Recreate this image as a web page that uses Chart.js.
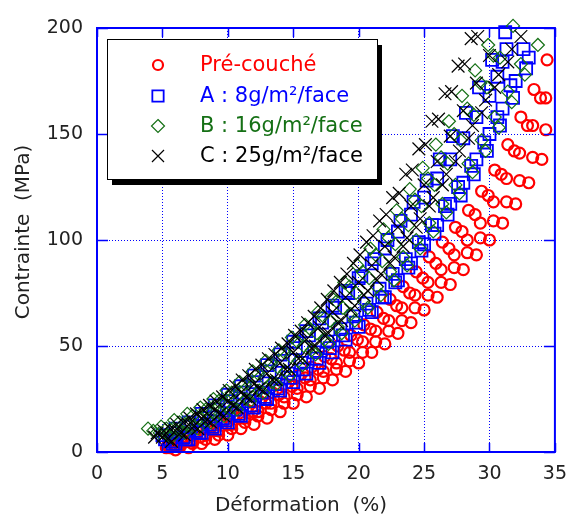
<!DOCTYPE html>
<html>
<head>
<meta charset="utf-8">
<script src="https://cdn.jsdelivr.net/npm/chart.js@4.4.0/dist/chart.umd.min.js"></script>
<style>
  body { margin: 0; background: #fff; }
  #wrap { width: 578px; height: 520px; }
</style>
</head>
<body>
<div id="wrap"><canvas id="myChart" width="578" height="520"></canvas></div>
<script>
// axis ticks
const xTicks = [0, 5, 10, 15, 20, 25, 30, 35];
const yTicks = [0, 50, 100, 150, 200];
const xTitle = "Déformation  (%)";
const yTitle = "Contrainte  (MPa)";

// Pré-couché (red circles), several specimens
const preCouche1 = [[5.4,3],[6.4,5],[7.4,8],[8.4,11],[9.4,14],[10.4,17],[11.4,20],[12.4,24],[13.4,28],[14.4,32],[15.4,36],[16.4,40],[17.4,45],[18.4,50],[19.4,55],[20.4,60],[21.4,66],[22.4,72],[23.4,78],[24.4,85],[25.4,92],[26.4,99],[27.4,106],[28.4,114],[29.4,123],[30.4,133],[31.4,145],[32.4,158],[33.4,171],[34.4,185]];
const preCouche2 = [[5.3,2],[6.3,3],[7.3,5],[8.3,8],[9.3,10],[10.3,13],[11.3,16],[12.3,19],[13.3,23],[14.3,26],[15.3,30],[16.3,34],[17.3,38],[18.3,42],[19.3,47],[20.3,52],[21.3,57],[22.3,62],[23.3,68],[24.3,74],[25.3,80],[26.3,86],[27.3,93],[28.3,100],[29.3,108],[30.3,118],[31.3,129],[32.3,141],[33.3,154],[34.3,167]];
const preCouche3 = [[5.6,2],[6.4,3],[7.3,4],[8.3,6],[9.3,8],[10.3,11],[11.3,14],[12.3,17],[13.3,20],[14.3,23],[15.3,27],[16.3,31],[17.3,35],[18.3,39],[19.3,43],[20.3,47],[21.3,52],[22.3,57],[23.3,62],[24.3,68],[25.3,74],[26.3,80],[27.3,87],[28.3,94],[29.3,101],[30.3,109],[31.3,118],[32.3,128],[33.3,139],[34.3,152]];
const preCouche4 = [[5.9,3],[6.9,5],[7.9,7],[8.9,10],[9.9,13],[10.9,16],[11.9,19],[12.9,23],[13.9,27],[14.9,31],[15.9,35],[16.9,39],[17.9,44],[18.9,48],[19.9,53],[20.9,58],[21.9,63],[22.9,69],[23.9,75],[24.9,82],[25.9,89],[26.9,96],[27.9,104],[28.9,112],[29.9,121],[30.9,131],[31.9,142],[32.9,154],[33.9,167]];
const preCouche5 = [[6,1],[7,2],[8,4],[9,6],[10,8],[11,11],[12,13],[13,16],[14,19],[15,23],[16,26],[17,30],[18,34],[19,38],[20,42],[21,47],[22,51],[23,56],[24,61],[25,67],[26,73],[27,79],[28,86],[29,93],[30,100],[31,108],[32,117],[33,127],[34,138]];

// A : 8g/m²/face (blue squares)
const coucheA1 = [[5.2,6],[6.2,9],[7.2,12],[8.2,16],[9.2,20],[10.2,24],[11.2,28],[12.2,33],[13.2,38],[14.2,43],[15.2,49],[16.2,55],[17.2,61],[18.2,68],[19.2,75],[20.2,83],[21.2,91],[22.2,100],[23.2,109],[24.2,118],[25.2,128],[26.2,138],[27.2,149],[28.2,160],[29.2,172],[30.2,185],[31.2,198]];
const coucheA2 = [[5.6,5],[6.6,7],[7.6,10],[8.6,13],[9.6,16],[10.6,20],[11.6,24],[12.6,28],[13.6,32],[14.6,37],[15.6,42],[16.6,47],[17.6,52],[18.6,58],[19.6,64],[20.6,70],[21.6,77],[22.6,84],[23.6,91],[24.6,99],[25.6,107],[26.6,116],[27.6,125],[28.6,135],[29.6,146],[30.6,158],[31.6,173],[32.6,190]];
const coucheA3 = [[6,4],[7,6],[8,9],[9,11],[10,14],[11,17],[12,21],[13,25],[14,29],[15,33],[16,37],[17,42],[18,47],[19,53],[20,59],[21,66],[22,73],[23,81],[24,89],[25,98],[26,107],[27,117],[28,127],[29,138],[30,150],[31,162],[32,175],[33,186]];
const coucheA4 = [[5.8,4],[6.8,6],[7.8,9],[8.8,12],[9.8,15],[10.8,18],[11.8,22],[12.8,26],[13.8,30],[14.8,35],[15.8,39],[16.8,44],[17.8,49],[18.8,55],[19.8,61],[20.8,67],[21.8,73],[22.8,80],[23.8,87],[24.8,95],[25.8,103],[26.8,112],[27.8,121],[28.8,131],[29.8,142],[30.8,154],[31.8,167],[32.8,181]];
const coucheA5 = [[5,8],[6,11],[7,14],[8,18],[9,22],[10,27],[11,31],[12,36],[13,41],[14,46],[15,52],[16,57],[17,63],[18,69],[19,76],[20,82],[21,89],[22,96],[23,104],[24,112],[25,120],[26,129],[27,138],[28,148],[29,158],[30,168],[30.6,177],[31,184],[31.3,190]];

// B : 16g/m²/face (green diamonds)
const coucheB1 = [[3.9,11],[4.9,12],[5.9,15],[6.9,18],[7.9,21],[8.9,25],[9.9,29],[10.9,33],[11.9,38],[12.9,43],[13.9,48],[14.9,54],[15.9,60],[16.9,66],[17.9,73],[18.9,80],[19.9,88],[20.9,96],[21.9,105],[22.9,114],[23.9,124],[24.9,134],[25.9,145],[26.9,156],[27.9,168],[28.9,180],[29.9,192]];
const coucheB2 = [[4.8,9],[5.8,11],[6.8,13],[7.8,16],[8.8,19],[9.8,23],[10.8,27],[11.8,31],[12.8,35],[13.8,40],[14.8,45],[15.8,50],[16.8,56],[17.8,62],[18.8,68],[19.8,75],[20.8,82],[21.8,90],[22.8,98],[23.8,107],[24.8,116],[25.8,126],[26.8,136],[27.8,147],[28.8,159],[29.8,172],[30.8,186],[31.8,201]];
const coucheB3 = [[5.7,7],[6.7,9],[7.7,11],[8.7,14],[9.7,17],[10.7,20],[11.7,24],[12.7,28],[13.7,32],[14.7,36],[15.7,41],[16.7,46],[17.7,51],[18.7,56],[19.7,62],[20.7,68],[21.7,74],[22.7,81],[23.7,88],[24.7,96],[25.7,104],[26.7,113],[27.7,122],[28.7,132],[29.7,142],[30.7,153],[31.7,165],[32.7,178],[33.7,192]];
const coucheB4 = [[4.3,10],[5.3,11],[6.3,14],[7.3,17],[8.3,20],[9.3,24],[10.3,28],[11.3,32],[12.3,37],[13.3,42],[14.3,47],[15.3,52],[16.3,58],[17.3,64],[18.3,71],[19.3,78],[20.3,85],[21.3,93],[22.3,101],[23.3,110],[24.3,119],[25.3,129],[26.3,139],[27.3,150],[28.3,162],[29.3,174],[30.3,187]];
const coucheB5 = [[5.4,8],[6.4,10],[7.4,12],[8.4,15],[9.4,18],[10.4,21],[11.4,25],[12.4,29],[13.4,33],[14.4,38],[15.4,43],[16.4,48],[17.4,53],[18.4,59],[19.4,65],[20.4,71],[21.4,78],[22.4,85],[23.4,92],[24.4,100],[25.4,108],[26.4,117],[27.4,126],[28.4,136],[29.4,147],[30.4,158],[31.4,170],[32.4,183]];

// C : 25g/m²/face (black crosses)
const coucheC1 = [[4.6,9],[5.6,11],[6.6,14],[7.6,18],[8.6,22],[9.6,26],[10.6,31],[11.6,36],[12.6,41],[13.6,46],[14.6,51],[15.6,57],[16.6,64],[17.6,72],[18.6,80],[19.6,89],[20.6,99],[21.6,109],[22.6,120],[23.6,131],[24.6,143],[25.6,156],[26.6,169],[27.6,182],[28.6,195]];
const coucheC2 = [[5,7],[6,10],[7,13],[8,16],[9,20],[10,24],[11,28],[12,32],[13,37],[14,42],[15,47],[16,53],[17,59],[18,66],[19,73],[20,80],[21,88],[22,97],[23,106],[24,116],[25,126],[26,137],[27,149],[28,161],[29,174],[30,187]];
const coucheC3 = [[5.4,6],[6.4,9],[7.4,12],[8.4,15],[9.4,18],[10.4,22],[11.4,26],[12.4,30],[13.4,34],[14.4,39],[15.4,44],[16.4,49],[17.4,55],[18.4,61],[19.4,67],[20.4,74],[21.4,81],[22.4,89],[23.4,97],[24.4,106],[25.4,116],[26.4,126],[27.4,137],[28.4,148],[29.4,160],[30.4,172],[31.4,184],[32.4,196]];
const coucheC4 = [[4.4,7],[5.1,10],[6.1,13],[7.1,16],[8.1,20],[9.1,24],[10.1,29],[11.1,34],[12.1,39],[13.1,44],[14.1,49],[15.1,55],[16.1,61],[17.1,68],[18.1,76],[19.1,84],[20.1,93],[21.1,102],[22.1,112],[23.1,122],[24.1,133],[25.1,145],[26.1,157],[27.1,170],[28.1,183],[29.1,196]];
const coucheC5 = [[5.7,5],[6.7,8],[7.7,11],[8.7,14],[9.7,17],[10.7,21],[11.7,25],[12.7,29],[13.7,34],[14.7,39],[15.7,44],[16.7,50],[17.7,56],[18.7,62],[19.7,69],[20.7,76],[21.7,84],[22.7,92],[23.7,101],[24.7,110],[25.7,120],[26.7,131],[27.7,142],[28.7,154],[29.7,166],[30.7,178],[31.7,190]];

const series = [
  { label: "Pré-couché", color: "#ff0000", style: "circle", radius: 5.5, width: 2.2, order: 4, curves: [preCouche1, preCouche2, preCouche3, preCouche4, preCouche5] },
  { label: "A : 8g/m²/face", color: "#0000ff", style: "rect", radius: 8.5, width: 1.8, order: 3, curves: [coucheA1, coucheA2, coucheA3, coucheA4, coucheA5] },
  { label: "B : 16g/m²/face", color: "#157015", style: "rectRot", radius: 6.5, width: 1.2, order: 2, curves: [coucheB1, coucheB2, coucheB3, coucheB4, coucheB5] },
  { label: "C : 25g/m²/face", color: "#000000", style: "crossRot", radius: 9, width: 1.2, order: 1, curves: [coucheC1, coucheC2, coucheC3, coucheC4, coucheC5] },
];

const datasets = [];
series.forEach((s) => {
  s.curves.forEach((c) => {
    datasets.push({
      label: s.label,
      data: c.map((p) => ({ x: p[0], y: p[1] })),
      showLine: false,
      pointStyle: s.style,
      pointRadius: s.radius,
      pointBorderWidth: s.width,
      borderColor: s.color,
      backgroundColor: "rgba(0,0,0,0)",
      order: s.order,
      clip: false,
    });
  });
});

const FONT = "'DejaVu Sans', sans-serif";

function drawMarker(ctx, style, x, y, r) {
  ctx.beginPath();
  if (style === "circle") {
    ctx.arc(x, y, r, 0, Math.PI * 2);
  } else if (style === "rect") {
    const s = r * Math.SQRT1_2;
    ctx.rect(x - s, y - s, 2 * s, 2 * s);
  } else if (style === "rectRot") {
    ctx.moveTo(x, y - r);
    ctx.lineTo(x + r, y);
    ctx.lineTo(x, y + r);
    ctx.lineTo(x - r, y);
    ctx.closePath();
  } else {
    const s = r * Math.SQRT1_2;
    ctx.moveTo(x - s, y - s);
    ctx.lineTo(x + s, y + s);
    ctx.moveTo(x + s, y - s);
    ctx.lineTo(x - s, y + s);
  }
  ctx.stroke();
}

const frameAndLegend = {
  id: "frameAndLegend",
  afterDatasetsDraw(chart) {
    const ctx = chart.ctx;
    const a = chart.chartArea;
    const xs = chart.scales.x, ys = chart.scales.y;
    ctx.save();
    // solid inner tick marks
    ctx.strokeStyle = "#0000ff";
    ctx.lineWidth = 1.5;
    xTicks.forEach((v) => {
      const px = Math.round(xs.getPixelForValue(v)) + 0.5;
      ctx.beginPath();
      ctx.moveTo(px, a.bottom); ctx.lineTo(px, a.bottom - 9);
      ctx.moveTo(px, a.top); ctx.lineTo(px, a.top + 9);
      ctx.stroke();
    });
    yTicks.forEach((v) => {
      const py = Math.round(ys.getPixelForValue(v)) + 0.5;
      ctx.beginPath();
      ctx.moveTo(a.left, py); ctx.lineTo(a.left + 11, py);
      ctx.moveTo(a.right, py); ctx.lineTo(a.right - 11, py);
      ctx.stroke();
    });
    // frame
    ctx.lineWidth = 2;
    ctx.strokeRect(a.left, a.top, a.right - a.left, a.bottom - a.top);

    // legend box with shadow
    const bx = 107, by = 39, bw = 270, bh = 140;
    ctx.fillStyle = "#000";
    ctx.fillRect(bx + 5, by + 6, bw, bh);
    ctx.fillStyle = "#fff";
    ctx.fillRect(bx, by, bw, bh);
    ctx.lineWidth = 1;
    ctx.strokeStyle = "#000";
    ctx.strokeRect(bx + 0.5, by + 0.5, bw, bh);

    ctx.font = "21px " + FONT;
    ctx.textBaseline = "middle";
    ctx.textAlign = "left";
    const rows = [65, 96, 126, 156];
    series.forEach((s, i) => {
      ctx.strokeStyle = s.color;
      ctx.lineWidth = s.width;
      const r = s.style === "circle" ? 5 : s.style === "rect" ? 8 : s.style === "rectRot" ? 6.5 : 8.5;
      drawMarker(ctx, s.style, 158, rows[i], r);
      ctx.fillStyle = s.color;
      ctx.fillText(s.label, 200, rows[i] + 1);
    });
    ctx.restore();
  },
  afterDraw(chart) {
    const ctx = chart.ctx;
    ctx.save();
    ctx.fillStyle = "#222";
    ctx.font = "20px " + FONT;
    ctx.textAlign = "center";
    ctx.textBaseline = "middle";
    ctx.fillText(xTitle, 301, 506);
    ctx.translate(24, 232);
    ctx.rotate(-Math.PI / 2);
    ctx.fillText(yTitle, 0, 0);
    ctx.restore();
  },
};

const myChartRef = document.getElementById("myChart").getContext("2d");
new Chart(myChartRef, {
  type: "scatter",
  data: { datasets: datasets },
  options: {
    responsive: false,
    animation: false,
    events: [],
    layout: { padding: { top: 28, right: 15, left: 0, bottom: 0 } },
    plugins: { legend: { display: false }, tooltip: { enabled: false } },
    scales: {
      x: {
        type: "linear",
        min: 0,
        max: 35,
        afterFit: (scale) => { scale.height = 68; },
        afterBuildTicks: (scale) => { scale.ticks = xTicks.map((v) => ({ value: v })); },
        ticks: { color: "#222", font: { family: FONT, size: 19 }, padding: 11, maxRotation: 0 },
        grid: { color: "#0000ff", lineWidth: 1, drawTicks: false },
        border: { display: false, dash: [1, 2] },
      },
      y: {
        type: "linear",
        min: 0,
        max: 200,
        afterFit: (scale) => { scale.width = 97; },
        afterBuildTicks: (scale) => { scale.ticks = yTicks.map((v) => ({ value: v })); },
        ticks: { color: "#222", font: { family: FONT, size: 19 }, padding: 14 },
        grid: { color: "#0000ff", lineWidth: 1, drawTicks: false },
        border: { display: false, dash: [1, 2] },
      },
    },
  },
  plugins: [frameAndLegend],
});
</script>
</body>
</html>
